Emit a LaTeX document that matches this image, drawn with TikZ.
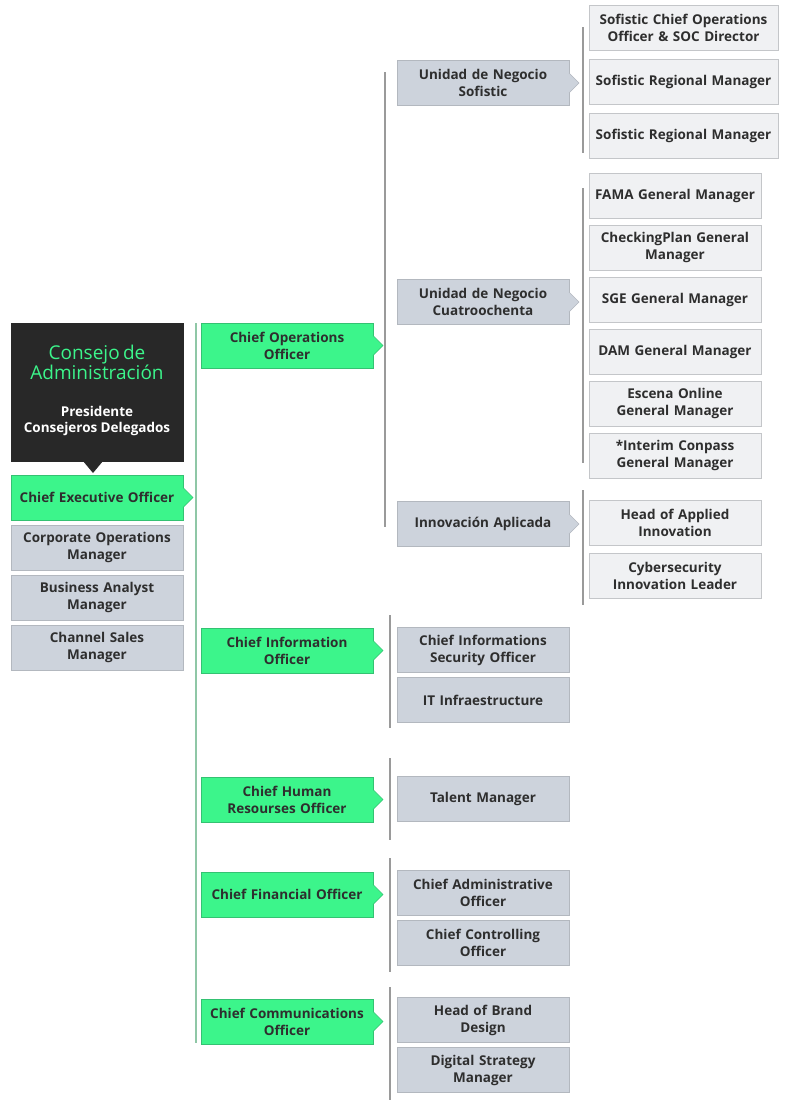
\documentclass[tikz,border=0pt]{standalone}
\usepackage{fontspec}
\setmainfont{Open Sans}
\usetikzlibrary{positioning, calc}
\definecolor{OrgGreen}{HTML}{3CF58B}
\definecolor{OrgGreenLine}{HTML}{34C272}
\definecolor{OrgStem}{HTML}{8FC7A6}
\definecolor{OrgGray}{HTML}{CDD3DC}
\definecolor{OrgGrayLine}{HTML}{B3B8BF}
\definecolor{OrgLight}{HTML}{F0F1F3}
\definecolor{OrgLightLine}{HTML}{C4C6C9}
\definecolor{OrgDark}{HTML}{282828}
\definecolor{OrgText}{HTML}{2E2E2E}
\definecolor{OrgRule}{HTML}{9A9A9A}
\tikzset{
    orgbox/.style={rectangle, minimum width=172pt, minimum height=45pt, inner sep=0pt,
        outer sep=0pt, text width=171pt, align=center, text=OrgText,
        font=\bfseries\fontsize{13.5}{17}\selectfont},
    greenbox/.style={orgbox, draw=OrgGreenLine, fill=OrgGreen},
    graybox/.style={orgbox, draw=OrgGrayLine, fill=OrgGray},
    lightbox/.style={orgbox, draw=OrgLightLine, fill=OrgLight},
    boardbox/.style={rectangle, minimum width=172pt, minimum height=138pt, inner sep=0pt,
        outer sep=0pt, text width=171pt, align=center, fill=OrgDark, draw=OrgDark},
    stem/.style={line width=1.8pt, OrgStem},
    rule/.style={line width=1.3pt, OrgRule},
}
% small tab on the right side of a box
\newcommand{\tabright}[3]{%
    \fill[#2] ($(#1.east)+(0,-10)$) -- ($(#1.east)+(10,0)$) -- ($(#1.east)+(0,10)$) -- cycle;
    \draw[#3, line width=0.4pt] ($(#1.east)+(0,-10)$) -- ($(#1.east)+(10,0)$) -- ($(#1.east)+(0,10)$);
}

\begin{document}
\begin{tikzpicture}[x=1pt, y=-1pt]
    \useasboundingbox (0,0) rectangle (785,1101);

    % Consejo and CEO column
    \node[boardbox] (board) at (97,392) {};
    \node[align=center, text width=171pt, inner sep=0pt] (boardtext) at (97,390)
        {{\color{OrgGreen}\fontsize{19}{18.5}\selectfont Consejo de\\Administración\par}
         \vspace{22pt}
         {\color{white}\bfseries\fontsize{13.5}{15.5}\selectfont Presidente\\Consejeros Delegados\par}};
    \fill[OrgDark] ($(board.south)+(-14,0)$) -- ($(board.south)+(-4,12)$) -- ($(board.south)+(6,0)$) -- cycle;

    \node[greenbox] (ceo) at (97,497.5) {Chief Executive Officer};
    \node[graybox, below=5pt of ceo] (corpops) {Corporate Operations\\Manager};
    \node[graybox, below=5pt of corpops] (busan) {Business Analyst\\Manager};
    \node[graybox, below=5pt of busan] (chsales) {Channel Sales\\Manager};
    \tabright{ceo}{OrgGreen}{OrgGreenLine}

    % C-level column
    \node[greenbox] (coo) at (287,345.5) {Chief Operations\\Officer};
    \node[greenbox] (cio) at (287,650.5) {Chief Information\\Officer};
    \node[greenbox] (chro) at (287,799.5) {Chief Human\\Resourses Officer};
    \node[greenbox] (cfo) at (287,894.5) {Chief Financial Officer};
    \node[greenbox] (cco) at (287,1021.5) {Chief Communications\\Officer};
    \foreach \n in {coo, cio, chro, cfo, cco}
        {\tabright{\n}{OrgGreen}{OrgGreenLine}}
    \draw[stem] (196,323) -- (196,1043);

    % Operations units
    \node[graybox] (sofistic) at (483,83) {Unidad de Negocio\\Sofistic};
    \node[graybox] (cuatro) at (483,302) {Unidad de Negocio\\Cuatroochenta};
    \node[graybox] (innova) at (483,524) {Innovación Aplicada};
    \foreach \n in {sofistic, cuatro, innova}
        {\tabright{\n}{OrgGray}{OrgGrayLine}}
    \draw[rule] (385,72) -- (385,527);

    % Other C-level reports
    \node[graybox] (ciso) at (483,650) {Chief Informations\\Security Officer};
    \node[graybox, below=5pt of ciso] (itinfra) {IT Infraestructure};
    \node[graybox] (talent) at (483,799) {Talent Manager};
    \node[graybox] (cao) at (483,893) {Chief Administrative\\Officer};
    \node[graybox, below=5pt of cao] (ccontrol) {Chief Controlling\\Officer};
    \node[graybox] (brand) at (483,1020) {Head of Brand\\Design};
    \node[graybox, below=5pt of brand] (digital) {Digital Strategy\\Manager};
    \draw[rule] (390,615) -- (390,728);
    \draw[rule] (390,758) -- (390,840);
    \draw[rule] (390,858) -- (390,972);
    \draw[rule] (390,987) -- (390,1100);

    % Sofistic
    \node[lightbox, minimum width=189pt, text width=188pt] (sofcoo) at (683.5,27.5)
        {Sofistic Chief Operations\\Officer \& SOC Director};
    \node[lightbox, minimum width=189pt, text width=188pt, below=9pt of sofcoo] (sofrm1)
        {Sofistic Regional Manager};
    \node[lightbox, minimum width=189pt, text width=188pt, below=9pt of sofrm1] (sofrm2)
        {Sofistic Regional Manager};
    \draw[rule] (583,27) -- (583,153);

    % Cuatroochenta
    \node[lightbox] (fama) at (675,195.5) {FAMA General Manager};
    \node[lightbox, below=7pt of fama] (checking) {CheckingPlan General\\Manager};
    \node[lightbox, below=7pt of checking] (sge) {SGE General Manager};
    \node[lightbox, below=7pt of sge] (dam) {DAM General Manager};
    \node[lightbox, below=7pt of dam] (escena) {Escena Online\\General Manager};
    \node[lightbox, below=7pt of escena] (conpass) {*Interim Conpass\\General Manager};
    \draw[rule] (583,188) -- (583,463);

    % Innovacion
    \node[lightbox] (applied) at (675,522.5) {Head of Applied\\Innovation};
    \node[lightbox, below=8pt of applied] (cyber) {Cybersecurity\\Innovation Leader};
    \draw[rule] (583,490) -- (583,605);
\end{tikzpicture}
\end{document}
